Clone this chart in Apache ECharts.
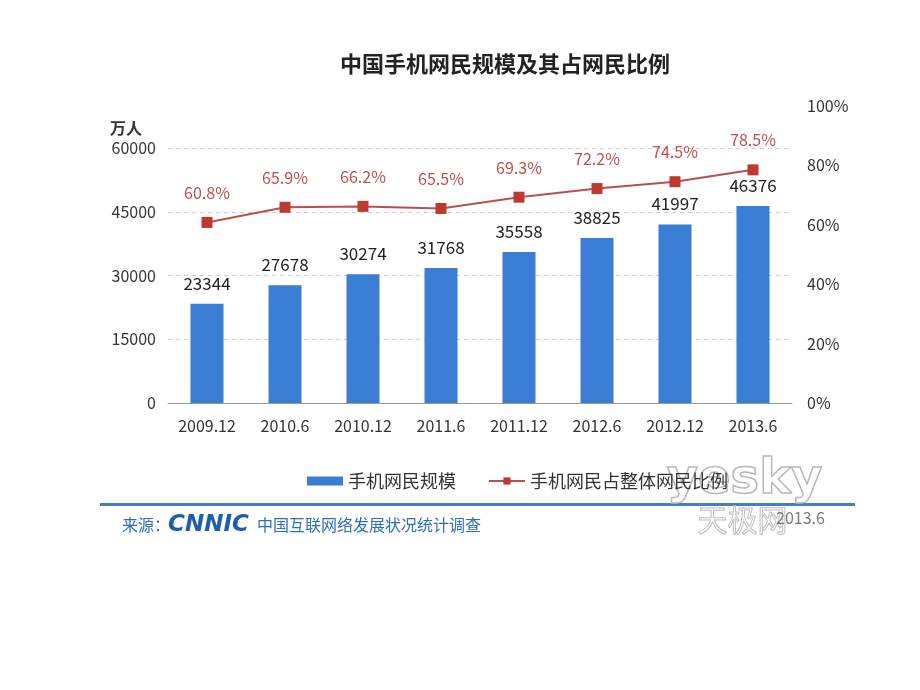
<!DOCTYPE html>
<html>
<head>
<meta charset="utf-8">
<style>
  html, body { margin: 0; padding: 0; background: #fff; }
  #chart { width: 920px; height: 690px; }
</style>
<script src="https://cdn.jsdelivr.net/npm/echarts@6/dist/echarts.min.js"></script>
</head>
<body>
<div id="chart"></div>
<script>
// 数据
const categories = ['2009.12', '2010.6', '2010.12', '2011.6', '2011.12', '2012.6', '2012.12', '2013.6']
const userCounts = [23344, 27678, 30274, 31768, 35558, 38825, 41997, 46376]
const userShares = [60.8, 65.9, 66.2, 65.5, 69.3, 72.2, 74.5, 78.5]
const leftTicks = { min: 0, max: 60000, interval: 15000 }
const rightTicks = { min: 0, max: 100, interval: 20 }

const FONT = '"Noto Sans CJK SC", "Noto Sans", sans-serif'
const BLUE = '#3a7dd4'
const RED = '#c0504d'

const chart = echarts.init(document.getElementById('chart'))

const options = {
  backgroundColor: '#fff',
  textStyle: { fontFamily: FONT },
  title: {
    text: '中国手机网民规模及其占网民比例',
    left: 500,
    top: 48,
    textAlign: 'center',
    textStyle: { fontSize: 22, fontWeight: 'bold', color: '#222', fontFamily: FONT }
  },
  legend: {
    top: 467,
    left: 302,
    itemGap: 32,
    itemWidth: 36,
    itemHeight: 9,
    textStyle: { fontSize: 18, color: '#333', fontFamily: FONT },
    data: [
      { name: '手机网民规模', icon: 'rect' },
      { name: '手机网民占整体网民比例' }
    ]
  },
  // 两个 grid 让左右轴刻度各自对齐原图
  grid: [
    { left: 168, right: 128, top: 148, bottom: 287 },
    { left: 168, right: 128, top: 106, bottom: 287 }
  ],
  xAxis: [
    {
      type: 'category',
      gridIndex: 0,
      data: categories,
      axisLine: { lineStyle: { color: '#999' } },
      axisTick: { length: 5, lineStyle: { color: '#999' } },
      axisLabel: { margin: 15, fontSize: 16, color: '#333', fontFamily: FONT }
    },
    {
      type: 'category',
      gridIndex: 1,
      data: categories,
      show: false
    }
  ],
  yAxis: [
    {
      type: 'value',
      gridIndex: 0,
      min: leftTicks.min,
      max: leftTicks.max,
      interval: leftTicks.interval,
      name: '万人',
      nameLocation: 'end',
      nameGap: 12,
      nameTextStyle: { align: 'right', padding: [0, 26, 0, 0], fontSize: 16, fontWeight: 'bold', color: '#333', fontFamily: FONT },
      axisLine: { show: false },
      axisTick: { show: false },
      axisLabel: { margin: 12, fontSize: 16, color: '#333', fontFamily: FONT, formatter: v => String(v) },
      splitLine: { lineStyle: { type: [4, 4], color: '#cfcfcf' } }
    },
    {
      type: 'value',
      gridIndex: 1,
      position: 'right',
      min: rightTicks.min,
      max: rightTicks.max,
      interval: rightTicks.interval,
      axisLine: { show: false },
      axisTick: { show: false },
      splitLine: { show: false },
      axisLabel: { margin: 15, fontSize: 16, color: '#333', fontFamily: FONT, formatter: '{value}%' }
    }
  ],
  series: [
    {
      name: '手机网民规模',
      type: 'bar',
      xAxisIndex: 0,
      yAxisIndex: 0,
      barWidth: 33,
      data: userCounts,
      itemStyle: { color: BLUE },
      label: { show: true, position: 'top', distance: 12, fontSize: 17, color: '#222', fontFamily: FONT }
    },
    {
      name: '手机网民占整体网民比例',
      type: 'line',
      xAxisIndex: 1,
      yAxisIndex: 1,
      data: userShares,
      symbol: 'rect',
      symbolSize: 11,
      lineStyle: { color: '#b5524f', width: 2 },
      itemStyle: { color: '#c0392f' },
      label: {
        show: true,
        position: 'top',
        distance: 16,
        fontSize: 16,
        color: RED,
        fontFamily: FONT,
        formatter: p => p.value.toFixed(1) + '%'
      }
    }
  ],
  graphic: [
    {
      type: 'rect',
      shape: { x: 100, y: 503, width: 755, height: 3 },
      style: { fill: '#3f7fc8' }
    },
    {
      type: 'text',
      left: 122,
      top: 517,
      style: { text: '来源：', fill: '#2f6fb8', font: '16px ' + FONT }
    },
    {
      type: 'text',
      left: 168,
      top: 514,
      style: { text: 'CNNIC', fill: '#1f5fa8', font: 'bold italic 23px "DejaVu Sans", sans-serif' }
    },
    {
      type: 'text',
      left: 257,
      top: 517,
      style: { text: '中国互联网络发展状况统计调查', fill: '#2f6fb8', font: '16px ' + FONT }
    },
    {
      type: 'text',
      left: 666,
      top: 456,
      style: { text: 'yesky', fill: 'rgba(0,0,0,0)', stroke: '#b8b8b8', lineWidth: 1.5, font: 'bold 48px "DejaVu Sans", sans-serif' }
    },
    {
      type: 'text',
      left: 697,
      top: 504,
      style: { text: '天极网', fill: 'rgba(0,0,0,0)', stroke: '#c0c0c0', lineWidth: 1, font: '30px ' + FONT }
    },
    {
      type: 'text',
      left: 776,
      top: 510,
      style: { text: '2013.6', fill: '#777', font: '16px ' + FONT }
    }
  ]
}

chart.setOption(options)
</script>
</body>
</html>
